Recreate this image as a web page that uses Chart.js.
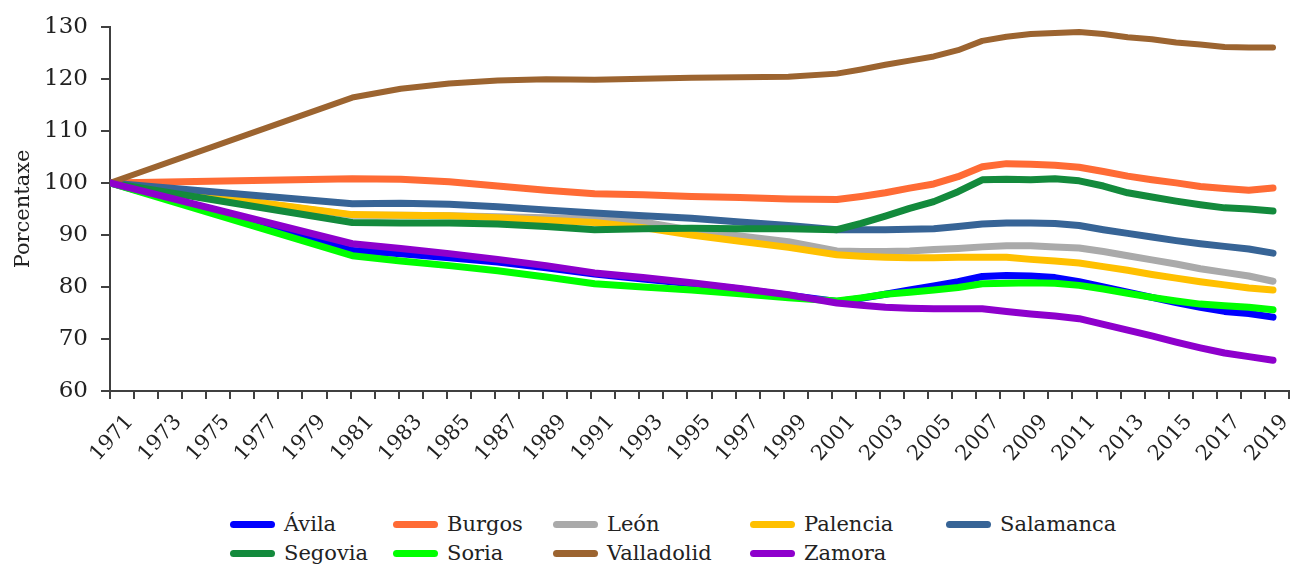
<!DOCTYPE html>
<html>
<head>
<meta charset="utf-8">
<script src="https://cdn.jsdelivr.net/npm/chart.js@4/dist/chart.umd.min.js"></script>
<style>
  body { margin: 0; background: #fff; }
  #wrap { position: relative; width: 1292px; height: 568px; }
  #box { position: absolute; left: 0; top: 0; width: 1292px; height: 480px; }
  .item { position: absolute; display: flex; align-items: center; transform: translateY(-50%);
          font: 21px "DejaVu Serif"; color: #222; white-space: nowrap; }
  .sw { width: 45px; height: 7px; border-radius: 4px; margin-right: 9px; }
</style>
</head>
<body>
<div id="wrap">
  <div id="box"><canvas id="chart"></canvas></div>
  <div id="legend"></div>
</div>
<script>
// years with a reading on the picture
const years = [1971, 1981, 1983, 1985, 1987, 1989, 1991, 1993, 1995, 1997, 1999,
  2001, 2002, 2003, 2004, 2005, 2006, 2007, 2008, 2009, 2010,
  2011, 2012, 2013, 2014, 2015, 2016, 2017, 2018, 2019];

const provinces = ["Ávila", "Burgos", "León", "Palencia", "Salamanca",
  "Segovia", "Soria", "Valladolid", "Zamora"];

const avila = [100, 87.0, 86.4, 85.6, 84.8, 83.7, 82.5, 81.5, 80.6, 79.6, 78.4,
  77.2, 77.8, 78.6, 79.4, 80.2, 81.0, 82.0, 82.2, 82.1, 81.8,
  81.0, 80.0, 79.0, 78.0, 77.0, 76.1, 75.3, 74.9, 74.2];
const burgos = [100, 100.8, 100.7, 100.2, 99.4, 98.6, 97.9, 97.7, 97.4, 97.2, 96.9,
  96.8, 97.4, 98.1, 99.0, 99.8, 101.2, 103.1, 103.7, 103.6, 103.4,
  103.0, 102.2, 101.3, 100.6, 100.0, 99.3, 98.9, 98.6, 99.0];
const leon = [100, 93.8, 93.8, 93.7, 93.5, 93.3, 93.1, 92.5, 90.9, 89.8, 88.7,
  86.9, 86.8, 86.8, 86.9, 87.2, 87.4, 87.7, 87.9, 87.9, 87.7,
  87.5, 86.8, 86.0, 85.2, 84.4, 83.5, 82.8, 82.1, 81.1];
const palencia = [100, 93.9, 93.8, 93.7, 93.3, 92.8, 92.4, 91.4, 90.0, 88.8, 87.6,
  86.2, 85.9, 85.7, 85.6, 85.6, 85.7, 85.7, 85.7, 85.3, 85.0,
  84.6, 83.9, 83.2, 82.4, 81.7, 81.0, 80.4, 79.8, 79.4];
const salamanca = [100, 96.0, 96.1, 95.9, 95.4, 94.8, 94.2, 93.7, 93.2, 92.5, 91.8,
  91.0, 91.0, 91.0, 91.1, 91.2, 91.6, 92.1, 92.3, 92.3, 92.2,
  91.8, 91.0, 90.3, 89.6, 88.9, 88.3, 87.8, 87.3, 86.5];
const segovia = [100, 92.4, 92.3, 92.3, 92.1, 91.6, 91.0, 91.2, 91.3, 91.2, 91.2,
  91.0, 92.2, 93.6, 95.1, 96.4, 98.3, 100.6, 100.7, 100.6, 100.8,
  100.4, 99.4, 98.1, 97.3, 96.5, 95.8, 95.2, 95.0, 94.6];
const soria = [100, 86.0, 85.0, 84.1, 83.1, 81.9, 80.6, 80.0, 79.4, 78.7, 77.9,
  77.3, 77.9, 78.6, 79.0, 79.4, 79.9, 80.6, 80.7, 80.8, 80.7,
  80.3, 79.6, 78.8, 78.0, 77.3, 76.7, 76.4, 76.1, 75.6];
const valladolid = [100, 116.4, 118.1, 119.1, 119.7, 119.9, 119.8, 120.0, 120.2, 120.3, 120.4,
  121.0, 121.8, 122.7, 123.5, 124.3, 125.5, 127.3, 128.1, 128.6, 128.8,
  129.0, 128.6, 128.0, 127.6, 127.0, 126.6, 126.1, 126.0, 126.0];
const zamora = [100, 88.3, 87.4, 86.4, 85.3, 84.1, 82.7, 81.8, 80.8, 79.7, 78.5,
  76.9, 76.5, 76.1, 75.9, 75.8, 75.8, 75.8, 75.3, 74.8, 74.4,
  73.9, 72.8, 71.7, 70.6, 69.4, 68.3, 67.3, 66.6, 65.9];

const xTickLabels = ["1971", "1973", "1975", "1977", "1979", "1981", "1983", "1985",
  "1987", "1989", "1991", "1993", "1995", "1997", "1999", "2001", "2003", "2005",
  "2007", "2009", "2011", "2013", "2015", "2017", "2019"];
const yTicks = [60, 70, 80, 90, 100, 110, 120, 130];

const series = [avila, burgos, leon, palencia, salamanca, segovia, soria, valladolid, zamora];
const colors = ["#0000ff", "#ff6b35", "#aaaaaa", "#ffc000", "#376496",
  "#138a3c", "#00ff00", "#9c6430", "#8e00cc"];

const axisColor = "#404040";
const textColor = "#222";
const xMax = 2019.66;

const datasets = series.map((vals, i) => ({
  label: provinces[i],
  data: vals.map((v, j) => ({ x: years[j], y: v })),
  borderColor: colors[i],
  borderWidth: provinces[i] === "Valladolid" ? 6 : 7,
  order: -i
}));

new Chart(document.getElementById("chart"), {
  type: "line",
  data: { datasets: datasets },
  options: {
    responsive: true,
    maintainAspectRatio: false,
    animation: false,
    layout: { padding: { top: 25, right: 3, left: 0, bottom: 0 } },
    plugins: { legend: { display: false }, tooltip: { enabled: false } },
    elements: {
      point: { radius: 0 },
      line: { tension: 0, borderCapStyle: "round", borderJoinStyle: "round" }
    },
    scales: {
      x: {
        type: "linear",
        min: 1971,
        max: xMax,
        afterBuildTicks: (s) => {
          const n = xTickLabels.length * 2;
          s.ticks = Array.from({ length: n }, (_, k) => ({ value: 1971 + k * (xMax - 1971) / (n - 1) }));
        },
        afterFit: (s) => { s.height = 89; s.paddingLeft = 0; s.paddingRight = 0; },
        grid: { drawOnChartArea: false, tickLength: 8, color: axisColor, lineWidth: 2 },
        border: { color: axisColor, width: 2 },
        ticks: {
          autoSkip: false, maxRotation: 48, minRotation: 48,
          labelOffset: 20, padding: 11, color: textColor,
          font: { family: "DejaVu Serif", size: 21 },
          callback: (v, i) => (i % 2 === 0 ? xTickLabels[i / 2] : "")
        }
      },
      y: {
        min: yTicks[0],
        max: yTicks[yTicks.length - 1],
        afterFit: (s) => { s.width = 110; },
        afterBuildTicks: (s) => { s.ticks = yTicks.map((v) => ({ value: v })); },
        grid: { drawOnChartArea: false, tickLength: 9, color: axisColor, lineWidth: 2 },
        border: { color: axisColor, width: 2 },
        ticks: { padding: 13, color: textColor, font: { family: "DejaVu Serif", size: 23 } },
        title: {
          display: true, text: "Porcentaxe", color: textColor,
          font: { family: "DejaVu Serif", size: 21 }, padding: { top: 11, bottom: 0 }
        }
      }
    }
  }
});

// legend laid out as a grid, like the original
const legendCols = [230, 393, 553, 750, 946];
const legendRows = [524, 553];
const legend = document.getElementById("legend");
provinces.forEach((name, i) => {
  const item = document.createElement("div");
  item.className = "item";
  item.style.left = legendCols[i % 5] + "px";
  item.style.top = legendRows[Math.floor(i / 5)] + "px";
  item.innerHTML = '<span class="sw" style="background:' + colors[i] + '"></span>' + name;
  legend.appendChild(item);
});
</script>
</body>
</html>
